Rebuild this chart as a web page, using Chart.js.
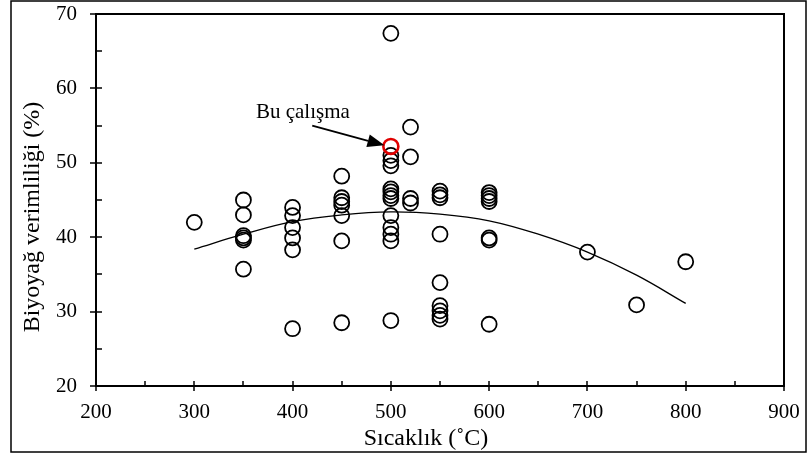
<!DOCTYPE html>
<html>
<head>
<meta charset="utf-8">
<script src="https://cdn.jsdelivr.net/npm/chart.js@4.4.1/dist/chart.umd.min.js"></script>
<style>
  html, body { margin: 0; padding: 0; background: #fff; }
</style>
</head>
<body>
<canvas id="myChart" width="808" height="456"></canvas>
<script>
// literature points: temperature (°C) and bio-oil yield (%)
const temperature = [
  300,
  350, 350, 350, 350, 350, 350,
  400, 400, 400, 400, 400, 400,
  450, 450, 450, 450, 450, 450, 450,
  500, 500, 500, 500, 500, 500, 500, 500, 500, 500, 500, 500, 500,
  520, 520, 520, 520,
  550, 550, 550, 550, 550, 550, 550, 550, 550,
  600, 600, 600, 600, 600, 600, 600,
  700, 750, 800
];
const yieldPct = [
  42.0,
  45.0, 43.0, 40.2, 39.9, 39.6, 35.7,
  44.0, 42.9, 41.3, 39.9, 38.3, 27.7,
  48.2, 45.3, 44.8, 44.3, 42.9, 39.5, 28.5,
  67.4, 51.0, 50.3, 49.6, 46.5, 46.1, 45.6, 45.2, 42.9, 41.3, 40.4, 39.5, 28.8,
  54.8, 50.8, 45.2, 44.6,
  46.2, 45.7, 45.3, 40.4, 33.9, 30.8, 30.1, 29.5, 29.0,
  46.0, 45.6, 45.2, 44.8, 39.9, 39.6, 28.3,
  38.0, 30.9, 36.7
];

// this study
const thisStudyTemp = [500];
const thisStudyYield = [52.2];

// trend curve
const trendTemp = [300, 350, 400, 450, 500, 550, 600, 650, 700, 750, 800];
const trendYield = [38.4, 40.4, 42.1, 43.0, 43.4, 43.1, 42.2, 40.4, 38.0, 34.9, 31.1];

const xTicks = [200, 300, 400, 500, 600, 700, 800, 900];
const yTicks = [20, 30, 40, 50, 60, 70];

const serif = 'Liberation Serif';

const toPoints = (xs, ys) => xs.map((x, i) => ({x: x, y: ys[i]}));

const frame = {
  id: 'frame',
  afterDraw: (chart) => {
    const {ctx, chartArea: a} = chart;
    const xs = chart.scales.x, ys = chart.scales.y;
    ctx.save();
    ctx.strokeStyle = '#000';

    // outer border
    ctx.lineWidth = 1.5;
    ctx.strokeRect(11, 1, 795, 451);

    // plot box
    ctx.lineWidth = 2;
    ctx.strokeRect(a.left, a.top, a.right - a.left, a.bottom - a.top);

    // x ticks
    ctx.lineWidth = 1.5;
    ctx.beginPath();
    for (let v = xTicks[0]; v <= xTicks[xTicks.length - 1]; v += 50) {
      const px = Math.round(xs.getPixelForValue(v));
      const major = v % 100 === 0;
      ctx.moveTo(px, a.bottom - 5);
      ctx.lineTo(px, major ? a.bottom + 5 : a.bottom);
    }
    // y ticks
    for (let v = yTicks[0]; v <= yTicks[yTicks.length - 1]; v += 5) {
      const py = Math.round(ys.getPixelForValue(v));
      const major = v % 10 === 0;
      ctx.moveTo(major ? a.left - 6 : a.left, py);
      ctx.lineTo(a.left + 6, py);
    }
    ctx.stroke();

    // axis titles
    ctx.fillStyle = '#000';
    ctx.font = '24px "' + serif + '"';
    ctx.textAlign = 'center';
    ctx.textBaseline = 'middle';
    ctx.fillText('Sıcaklık (˚C)', 426, 439);
    ctx.save();
    ctx.translate(33, 217);
    ctx.rotate(-Math.PI / 2);
    ctx.fillText('Biyoyağ verimliliği (%)', 0, 0);
    ctx.restore();

    // annotation
    ctx.font = '21px "' + serif + '"';
    ctx.fillText('Bu çalışma', xs.getPixelForValue(410.5), ys.getPixelForValue(56.7));

    const x0 = xs.getPixelForValue(420), y0 = ys.getPixelForValue(55.0);
    const x1 = xs.getPixelForValue(493.5), y1 = ys.getPixelForValue(52.35);
    const ang = Math.atan2(y1 - y0, x1 - x0);
    const len = 17, half = 6.5;
    const bx = x1 - len * Math.cos(ang), by = y1 - len * Math.sin(ang);
    ctx.lineWidth = 2;
    ctx.beginPath();
    ctx.moveTo(x0, y0);
    ctx.lineTo(bx, by);
    ctx.stroke();
    ctx.beginPath();
    ctx.moveTo(x1, y1);
    ctx.lineTo(bx + half * Math.sin(ang), by - half * Math.cos(ang));
    ctx.lineTo(bx - half * Math.sin(ang), by + half * Math.cos(ang));
    ctx.closePath();
    ctx.fill();

    ctx.restore();
  }
};

new Chart(document.getElementById('myChart'), {
  type: 'scatter',
  data: {
    datasets: [
      {
        type: 'line',
        data: toPoints(trendTemp, trendYield),
        borderColor: '#000',
        borderWidth: 1.3,
        pointRadius: 0,
        tension: 0.4,
        fill: false,
        order: 3
      },
      {
        data: toPoints(temperature, yieldPct),
        borderColor: '#000',
        backgroundColor: 'rgba(0,0,0,0)',
        borderWidth: 1.8,
        pointRadius: 7.5,
        order: 2
      },
      {
        data: toPoints(thisStudyTemp, thisStudyYield),
        borderColor: '#e00000',
        backgroundColor: 'rgba(0,0,0,0)',
        borderWidth: 2.6,
        pointRadius: 7.5,
        order: 1
      }
    ]
  },
  options: {
    responsive: false,
    animation: false,
    devicePixelRatio: 1,
    layout: { padding: { left: 0, right: 24, top: 14, bottom: 0 } },
    plugins: { legend: { display: false }, tooltip: { enabled: false } },
    scales: {
      x: {
        type: 'linear',
        min: 200,
        max: 900,
        afterFit: (s) => { s.height = 70; s.paddingLeft = 0; s.paddingRight = 0; },
        afterBuildTicks: (s) => { s.ticks = xTicks.map(v => ({value: v})); },
        ticks: { color: '#000', padding: 14, font: { family: serif, size: 21 } },
        grid: { display: false, drawTicks: false },
        border: { display: false }
      },
      y: {
        type: 'linear',
        min: 20,
        max: 70,
        afterFit: (s) => { s.width = 96; s.paddingTop = 0; s.paddingBottom = 0; },
        afterBuildTicks: (s) => { s.ticks = yTicks.map(v => ({value: v})); },
        ticks: { color: '#000', padding: 19, font: { family: serif, size: 21 } },
        grid: { display: false, drawTicks: false },
        border: { display: false }
      }
    }
  },
  plugins: [frame]
});
</script>
</body>
</html>
